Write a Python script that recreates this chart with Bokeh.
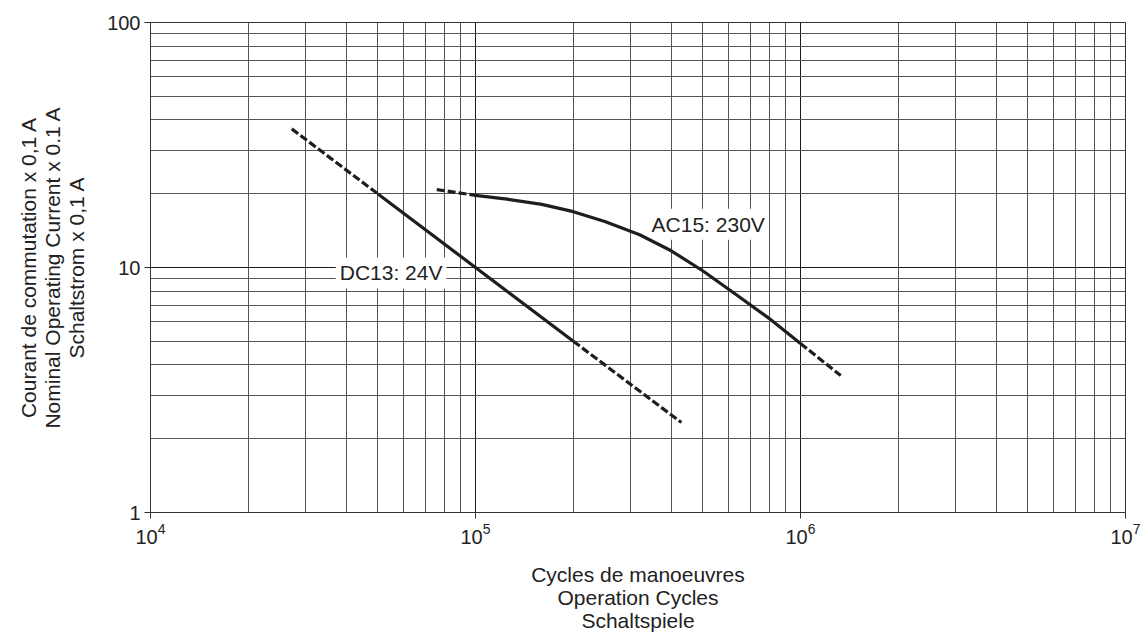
from bokeh.plotting import figure
from bokeh.models import FixedTicker, BasicTickFormatter, Label
from bokeh.embed import file_html
from bokeh.resources import INLINE

# ---- data ----
x_major = [1e4, 1e5, 1e6, 1e7]
x_minor = [k * 10 ** e for e in (4, 5, 6) for k in range(2, 10)]
y_major = [1, 10, 100]
y_minor = [k * 10 ** e for e in (0, 1) for k in range(2, 10)]

dc13_lead_x = [2.72e4, 5e4]
dc13_lead_y = [36.8, 20.0]
dc13_x = [5e4, 1e5, 2e5]
dc13_y = [20.0, 10.0, 5.0]
dc13_tail_x = [2e5, 4.3e5]
dc13_tail_y = [5.0, 2.33]

ac15_lead_x = [7.6e4, 1e5]
ac15_lead_y = [20.8, 19.7]
ac15_x = [1e5, 1.25e5, 1.6e5, 2e5, 2.5e5, 3.2e5, 4e5, 5e5, 6.3e5, 8e5, 1e6]
ac15_y = [19.7, 19.0, 18.1, 16.9, 15.4, 13.6, 11.7, 9.7, 7.8, 6.2, 4.9]
ac15_tail_x = [1e6, 1.33e6]
ac15_tail_y = [4.9, 3.62]

labels = ["DC13: 24V", "AC15: 230V"]
label_x = [5.5e4, 5.2e5]
label_y = [9.5, 15.0]

x_title = ["Cycles de manoeuvres", "Operation Cycles", "Schaltspiele"]
y_title = ["Courant de commutation x 0,1 A", "Nominal Operating Current x 0.1 A", "Schaltstrom x 0,1 A"]

FONT = "Liberation Sans"
INK = "#1e1e1e"
TXT = "#222222"

W, H = 1147, 634
LEFT, RIGHT, TOP, BOTTOM = 150, 22, 22, 122

p = figure(width=W, height=H, x_axis_type="log", y_axis_type="log",
           x_range=(1e4, 1e7), y_range=(1, 100),
           output_backend="svg", toolbar_location=None,
           min_border_left=LEFT, min_border_right=RIGHT,
           min_border_top=TOP, min_border_bottom=BOTTOM)

p.xaxis.ticker = FixedTicker(ticks=x_major, minor_ticks=x_minor)
p.yaxis.ticker = FixedTicker(ticks=y_major, minor_ticks=y_minor)
p.yaxis.formatter = BasicTickFormatter()

for ax in (p.xaxis, p.yaxis):
    ax.major_tick_out = 6
    ax.major_tick_in = 0
    ax.minor_tick_out = 0
    ax.minor_tick_in = 0
    ax.major_label_text_font = FONT
    ax.major_label_text_font_size = "20px"
    ax.major_label_text_color = TXT
    ax.axis_label_text_font = FONT
    ax.axis_label_text_font_size = "21px"
    ax.axis_label_text_font_style = "normal"
    ax.axis_label_text_color = TXT
    ax.axis_line_color = "#333333"
    ax.major_tick_line_color = "#333333"
    ax.major_label_standoff = 4

p.yaxis.axis_label = "\n".join(y_title)
p.yaxis.axis_label_standoff = 16
p.yaxis.axis_label_text_line_height = 1.05

p.xaxis.axis_label = "\n".join(x_title)
p.xaxis.axis_label_standoff = 16
p.xaxis.axis_label_text_line_height = 1.0

for g in (p.xgrid, p.ygrid):
    g.grid_line_color = "#1a1a1a"
    g.grid_line_width = 1
    g.grid_line_alpha = 1
    g.minor_grid_line_color = "#555555"
    g.minor_grid_line_width = 1

p.outline_line_color = "#333333"
p.background_fill_color = "white"
p.border_fill_color = "white"

LW = 3.2
DASH = "8 3"
p.line(dc13_lead_x, dc13_lead_y, line_color=INK, line_width=LW, line_dash=DASH)
p.line(dc13_x, dc13_y, line_color=INK, line_width=LW)
p.line(dc13_tail_x, dc13_tail_y, line_color=INK, line_width=LW, line_dash=DASH)
p.line(ac15_lead_x, ac15_lead_y, line_color=INK, line_width=LW, line_dash=DASH)
p.line(ac15_x, ac15_y, line_color=INK, line_width=LW, line_join="round")
p.line(ac15_tail_x, ac15_tail_y, line_color=INK, line_width=LW, line_dash=DASH)

for t, lx, ly in zip(labels, label_x, label_y):
    p.add_layout(Label(x=lx, y=ly, text=t, text_align="center", text_baseline="middle",
                       text_font=FONT, text_font_size="21px", text_color=TXT,
                       background_fill_color="white", padding=4, level="underlay"))

open("out.html", "w").write(file_html(p, INLINE))
